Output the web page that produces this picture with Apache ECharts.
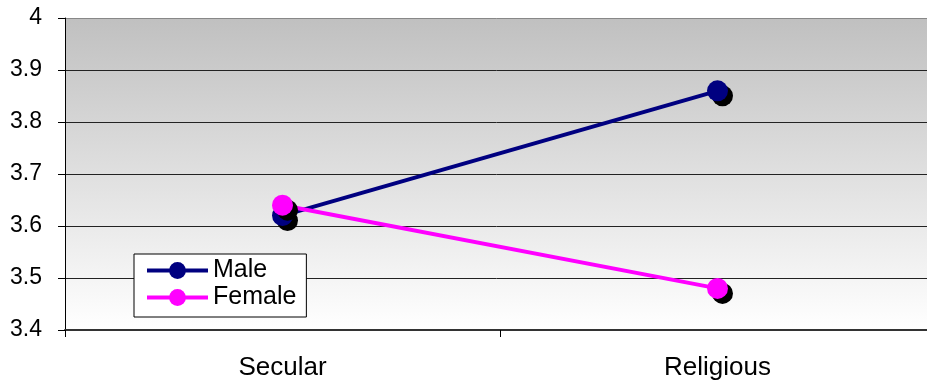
<!DOCTYPE html>
<html><head><meta charset="utf-8">
<script src="https://cdn.jsdelivr.net/npm/echarts@6/dist/echarts.min.js"></script>
<style>html,body{margin:0;padding:0;background:#fff}#c{width:927px;height:384px}</style>
</head><body><div id="c"></div>
<script>
var categories = ["Secular", "Religious"];
var maleValues = [3.62, 3.86];
var femaleValues = [3.64, 3.48];
var seriesNames = ["Male", "Female"];

var chart = echarts.init(document.getElementById('c'), null, {renderer: 'canvas'});
var font = 'Liberation Sans, Arial, sans-serif';
function mk(name, data, color) {
  return {
    name: name, type: 'line', data: data,
    symbol: 'circle', symbolSize: 21,
    lineStyle: {color: color, width: 4},
    itemStyle: {color: color, shadowColor: '#000', shadowBlur: 0, shadowOffsetX: 5, shadowOffsetY: 5},
    emphasis: {disabled: true},
    animation: false
  };
}
chart.setOption({
  animation: false,
  grid: {left: 65, top: 18, width: 870, height: 312, show: true,
    outerBoundsMode: 'none', containLabel: false,
    backgroundColor: {type: 'linear', x: 0, y: 0, x2: 0, y2: 1,
      colorStops: [{offset: 0, color: '#c0c0c0'}, {offset: 1, color: '#ffffff'}]},
    borderWidth: 0},
  legend: {
    orient: 'vertical', left: 134, top: 254,
    data: seriesNames,
    backgroundColor: '#fff', borderColor: '#000', borderWidth: 1,
    padding: [4, 10, 7, 11], itemGap: 2,
    itemWidth: 61, itemHeight: 21,
    lineStyle: {width: 4},
    itemStyle: {shadowOffsetX: 0, shadowOffsetY: 0},
    textStyle: {fontFamily: font, fontSize: 25, lineHeight: 25, color: '#000', padding: [0, 0, 0, 0]}
  },
  xAxis: {
    type: 'category', data: categories, boundaryGap: true,
    axisLine: {lineStyle: {color: '#333', width: 2}},
    axisTick: {show: true, length: 7, lineStyle: {color: '#000'}},
    axisLabel: {fontFamily: font, fontSize: 26, color: '#000', margin: 25}
  },
  yAxis: {
    type: 'value', min: 3.4, max: 4, interval: 0.1,
    axisLine: {show: true, lineStyle: {color: '#000'}},
    axisTick: {show: true, length: 7, lineStyle: {color: '#000'}},
    axisLabel: {fontFamily: font, fontSize: 23, color: '#000', margin: 23,
      formatter: function (v) { return String(Math.round(v * 10) / 10); }},
    splitLine: {show: true, lineStyle: {
      color: ['#333', '#222', '#222', '#222', '#222', '#222', '#888'], width: 1}}
  },
  series: [mk(seriesNames[0], maleValues, '#000080'), mk(seriesNames[1], femaleValues, '#ff00ff')]
});
</script></body></html>
